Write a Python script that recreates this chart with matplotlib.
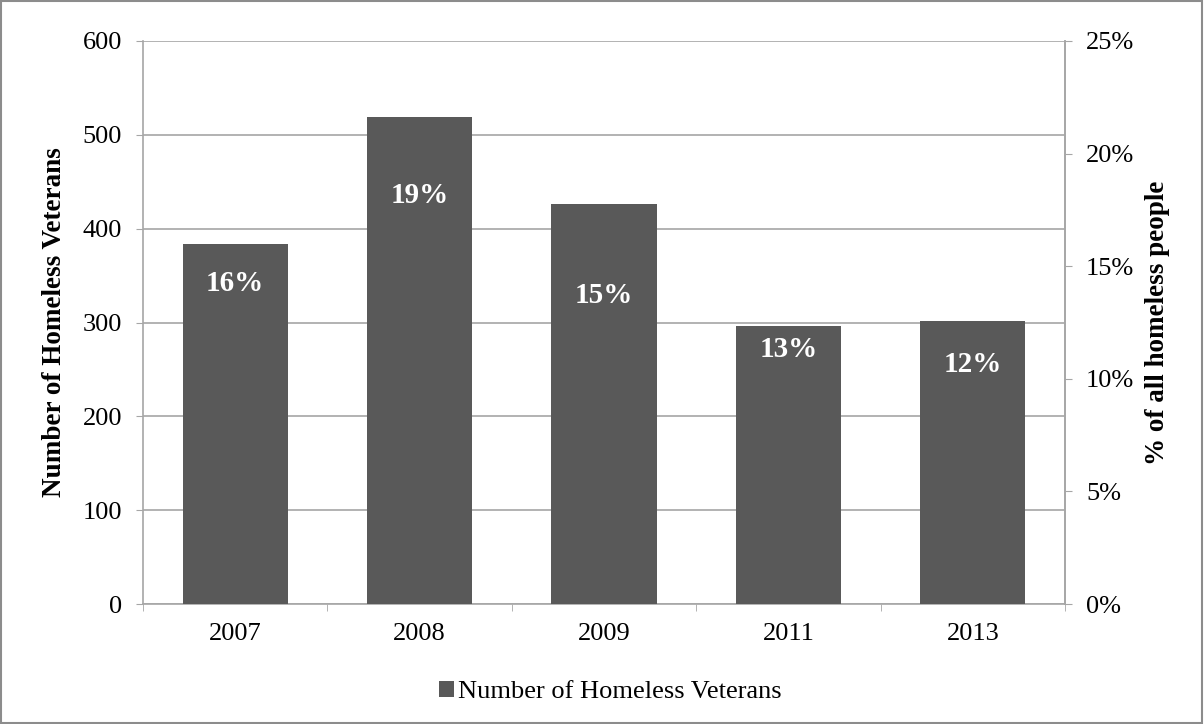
import matplotlib.pyplot as plt
import numpy as np
from matplotlib.patches import Rectangle

years = ["2007", "2008", "2009", "2011", "2013"]
veterans = [384, 519, 426, 296, 302]
pct_labels = ["16%", "19%", "15%", "13%", "12%"]
# vertical spot of each percentage label, in veteran counts
label_y = [342, 435, 329, 271, 255]

bar_color = "#595959"
grid_color = "#a6a6a6"
fs = 19

plt.rcParams['font.family'] = ['Liberation Serif', 'DejaVu Serif']

fig = plt.figure(figsize=(12.04, 7.24), dpi=100)
ax = fig.add_axes([0.1188, 0.1657, 0.7658, 0.7777])

x = np.arange(len(years))
ax.bar(x, veterans, width=0.57, color=bar_color, zorder=3,
       label="Number of Homeless Veterans")

for xi, yi, txt in zip(x, label_y, pct_labels):
    ax.text(xi, yi, txt, ha="center", va="center", color="white",
            fontsize=21, fontweight="bold", zorder=4)

ax.set_xlim(-0.5, len(years) - 0.5)
ax.set_ylim(0, 600)
ax.set_yticks(range(0, 601, 100))
ax.set_xticks(x)
ax.set_xticklabels(years)
ax.set_xticks(np.arange(-0.5, len(years), 1), minor=True)
ax.tick_params(axis='x', which='major', length=0, labelsize=fs, pad=14)
ax.tick_params(axis='x', which='minor', length=5, color=grid_color, direction='out')
ax.tick_params(axis='y', length=5, color=grid_color, labelsize=fs, pad=10)
ax.grid(axis='y', color=grid_color, linewidth=1.2, zorder=0)
ax.spines["top"].set_visible(False)
for side in ["left", "bottom", "right"]:
    ax.spines[side].set_color(grid_color)
    ax.spines[side].set_linewidth(1.2)
ax.set_ylabel("Number of Homeless Veterans", fontsize=19.5, fontweight="bold", labelpad=11)

ax2 = ax.twinx()
ax2.set_ylim(0, 0.25)
pct_ticks = np.arange(0, 0.2501, 0.05)
ax2.set_yticks(pct_ticks)
ax2.set_yticklabels([f"{int(round(v * 100))}%" for v in pct_ticks])
ax2.tick_params(axis='y', length=5, color=grid_color, labelsize=fs, pad=10)
for side in ["top", "left", "bottom"]:
    ax2.spines[side].set_visible(False)
ax2.spines["right"].set_color(grid_color)
ax2.spines["right"].set_linewidth(1.2)
ax2.set_ylabel("% of all homeless people", fontsize=19.5, fontweight="bold", labelpad=8)

fig.legend(loc="lower center", bbox_to_anchor=(0.507, -0.004), frameon=False,
           fontsize=19, handlelength=0.55, handleheight=0.55, handletextpad=0.15)

fig.patches.append(Rectangle((0.001, 0.001), 0.997, 0.997, transform=fig.transFigure,
                             fill=False, edgecolor="#8c8c8c", linewidth=1.5))

fig.savefig("out.png", dpi=100)
